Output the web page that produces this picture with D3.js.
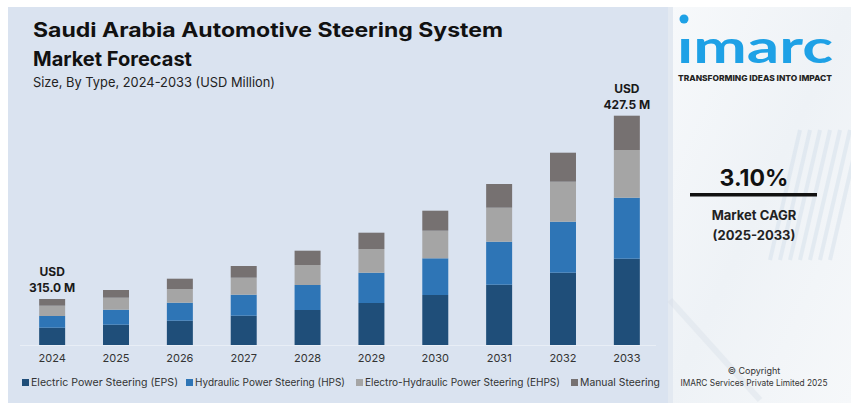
<!DOCTYPE html>
<html><head><meta charset="utf-8">
<script src="https://cdn.jsdelivr.net/npm/d3@7"></script>
<style>body{margin:0;background:#fff;}svg{display:block;font-family:Inter,"Noto Sans",sans-serif;}</style>
</head><body>
<svg id="c" width="851" height="409"></svg>
<script>
const years = ["2024","2025","2026","2027","2028","2029","2030","2031","2032","2033"];
const seriesNames = ["Electric Power Steering (EPS)","Hydraulic Power Steering (HPS)","Electro-Hydraulic Power Steering (EHPS)","Manual Steering"];
// segment sizes (chart units)
const eps   = [17.3, 20.3, 24.3, 29.3, 35.0, 42.0, 50.0, 60.3, 72.3, 86.3];
const hps   = [11.7, 15.0, 18.0, 21.0, 25.0, 30.3, 36.7, 43.0, 51.0, 61.0];
const ehps  = [10.3, 12.0, 13.7, 17.0, 20.0, 23.7, 27.6, 34.0, 40.0, 47.7];
const manual= [ 6.7,  7.7, 10.3, 11.7, 14.3, 16.3, 20.0, 23.7, 29.0, 34.3];
const colors = ["#1f4e79","#2e75b6","#a5a5a5","#767171"];
const endLabels = [{i:0, top:"USD", bottom:"315.0 M"},{i:9, top:"USD", bottom:"427.5 M"}];

const svg = d3.select("#c");
// backgrounds
svg.append("rect").attr("x",8).attr("y",7).attr("width",662).attr("height",396).attr("fill","#dae3f0");
const defs = svg.append("defs");
const g1 = defs.append("linearGradient").attr("id","rp").attr("x1","0").attr("y1","0").attr("x2","1").attr("y2","1");
g1.append("stop").attr("offset","0").attr("stop-color","#f7f9fb");
g1.append("stop").attr("offset","0.5").attr("stop-color","#eef2f6");
g1.append("stop").attr("offset","1").attr("stop-color","#f6f8fa");
svg.append("rect").attr("x",668).attr("y",7).attr("width",183).attr("height",396).attr("fill","url(#rp)");
svg.append("rect").attr("x",668).attr("y",7).attr("width",5).attr("height",396).attr("fill","#e3e9f1");
// faint decorative stripes
const deco = svg.append("g").attr("opacity",0.35);
[0,1,2,3,4,5,6].forEach(k=>{
  deco.append("line").attr("x1",770+k*10).attr("y1",260).attr("x2",800+k*10).attr("y2",130)
    .attr("stroke","#c9d8e6").attr("stroke-width",4);
});
deco.append("line").attr("x1",670).attr("y1",300).attr("x2",760).attr("y2",400).attr("stroke","#d5dde6").attr("stroke-width",6);

// scales
const x = d3.scaleBand().domain(years).range([20,659]).paddingInner(0.593).paddingOuter(0.3);
const y = d3.scaleLinear().domain([0,240]).range([345,105]);

// baseline
svg.append("line").attr("x1",20).attr("x2",656).attr("y1",345.5).attr("y2",345.5).attr("stroke","#e8eef6").attr("stroke-width",1);

const table = years.map((yr,i)=>({year:yr, s0:eps[i], s1:hps[i], s2:ehps[i], s3:manual[i]}));
const stack = d3.stack().keys(["s0","s1","s2","s3"])(table);
svg.append("g").selectAll("g").data(stack).join("g").attr("fill",(d,i)=>colors[i])
  .selectAll("rect").data(d=>d).join("rect")
  .attr("x",d=>x(d.data.year)).attr("width",x.bandwidth())
  .attr("y",d=>y(d[1])).attr("height",d=>y(d[0])-y(d[1]));

// x axis labels
const xa = d3.axisBottom(x).tickSize(0).tickPadding(0);
const axG = svg.append("g").attr("transform","translate(0,354)").call(xa);
axG.select(".domain").remove();
axG.selectAll("text").attr("font-size",11).attr("fill","#333").attr("font-family","Inter, sans-serif");

// end labels
endLabels.forEach(l=>{
  const tot = eps[l.i]+hps[l.i]+ehps[l.i]+manual[l.i];
  const cx = x(years[l.i])+x.bandwidth()/2;
  const t = svg.append("text").attr("text-anchor","middle").attr("font-weight",700).attr("font-size",12).attr("fill","#1a1a1a");
  t.append("tspan").attr("x",cx).attr("y",y(tot)-23).text(l.top);
  t.append("tspan").attr("x",cx).attr("y",y(tot)-7).text(l.bottom);
});

// titles
svg.append("text").attr("x",33).attr("y",37).attr("font-size",20).attr("font-weight",700).attr("fill","#111")
  .attr("textLength",470).attr("lengthAdjust","spacingAndGlyphs").text("Saudi Arabia Automotive Steering System");
svg.append("text").attr("x",33).attr("y",66).attr("font-size",20).attr("font-weight",700).attr("fill","#111")
  .text("Market Forecast");
svg.append("text").attr("x",33).attr("y",87).attr("font-size",13.5).attr("fill","#222")
  .attr("textLength",242).attr("lengthAdjust","spacingAndGlyphs").text("Size, By Type, 2024-2033 (USD Million)");

// legend
const legX = [22,186,356,571];
const legW = [147,150,195,80];
seriesNames.forEach((n,i)=>{
  svg.append("rect").attr("x",legX[i]).attr("y",379).attr("width",7).attr("height",7).attr("fill",colors[i]);
  svg.append("text").attr("x",legX[i]+9).attr("y",386).attr("font-size",10.5).attr("fill","#333")
    .attr("textLength",legW[i]).attr("lengthAdjust","spacingAndGlyphs").text(n);
});

// right panel
svg.append("circle").attr("cx",684).attr("cy",19).attr("r",4.5).attr("fill","#1ea1e6");
svg.append("text").attr("x",677).attr("y",63).attr("font-size",46).attr("font-weight",700).attr("fill","#1ea1e6")
  .attr("font-family","Lato, sans-serif").attr("textLength",156).attr("lengthAdjust","spacingAndGlyphs").text("\u0131marc");
svg.append("text").attr("x",678).attr("y",81).attr("font-size",8).attr("font-weight",800).attr("fill","#222")
  .attr("textLength",154).attr("lengthAdjust","spacingAndGlyphs").text("TRANSFORMING IDEAS INTO IMPACT");
svg.append("text").attr("x",754).attr("y",186).attr("text-anchor","middle").attr("font-size",23).attr("font-weight",700).attr("fill","#111").text("3.10%");
svg.append("rect").attr("x",690).attr("y",193).attr("width",127).attr("height",3.5).attr("fill","#111");
svg.append("text").attr("x",754).attr("y",220).attr("text-anchor","middle").attr("font-size",13).attr("font-weight",700).attr("fill","#222").text("Market CAGR");
svg.append("text").attr("x",754).attr("y",240).attr("text-anchor","middle").attr("font-size",13).attr("font-weight",700).attr("fill","#222").text("(2025-2033)");
svg.append("text").attr("x",754).attr("y",374).attr("text-anchor","middle").attr("font-size",9).attr("fill","#333").text("\u00a9 Copyright");
svg.append("text").attr("x",754).attr("y",386).attr("text-anchor","middle").attr("font-size",9).attr("fill","#333")
  .attr("textLength",147).attr("lengthAdjust","spacingAndGlyphs").text("IMARC Services Private Limited 2025");
</script>
</body></html>
